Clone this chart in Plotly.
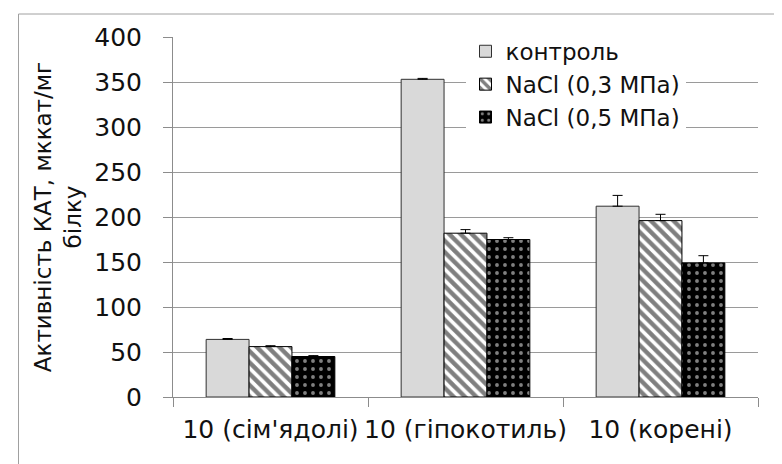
import plotly.graph_objects as go

categories = ["10 (сім'ядолі)", "10 (гіпокотиль)", "10 (корені)"]
series_names = ["контроль", "NaCl (0,3 МПа)", "NaCl (0,5 МПа)"]
control = [64, 353, 212]
control_err = [1, 1, 12]
nacl03 = [56, 182, 196]
nacl03_err = [1, 4, 7]
nacl05 = [45, 175, 149]
nacl05_err = [1, 2, 8]
y_ticks = [0, 50, 100, 150, 200, 250, 300, 350, 400]

FONT = "DejaVu Sans"
TXT = "#111111"

fig = go.Figure()
fig.add_trace(go.Bar(
    name=series_names[0], x=categories, y=control,
    marker=dict(color="#d9d9d9", line=dict(color="#303030", width=1)),
    error_y=dict(type="data", symmetric=False, array=control_err,
                 arrayminus=[0] * 3, color="black", thickness=1, width=5),
))
fig.add_trace(go.Bar(
    name=series_names[1], x=categories, y=nacl03,
    marker=dict(color="white", line=dict(color="black", width=1),
                pattern=dict(shape="\\", fgcolor="black", bgcolor="white",
                             size=8, solidity=0.55)),
    error_y=dict(type="data", symmetric=False, array=nacl03_err,
                 arrayminus=[0] * 3, color="black", thickness=1, width=5),
))
fig.add_trace(go.Bar(
    name=series_names[2], x=categories, y=nacl05,
    marker=dict(color="black", line=dict(color="black", width=1),
                pattern=dict(shape=".", fgcolor="white", bgcolor="black",
                             size=8, solidity=0.18)),
    error_y=dict(type="data", symmetric=False, array=nacl05_err,
                 arrayminus=[0] * 3, color="black", thickness=1, width=5),
))

fig.update_layout(
    width=782, height=464,
    margin=dict(l=165, r=32, t=29, b=75),
    paper_bgcolor="white", plot_bgcolor="white",
    barmode="group", bargap=0.34, bargroupgap=0,
    font=dict(family=FONT, size=24, color=TXT),
    showlegend=True,
    legend=dict(x=0.5, y=1.02, xanchor="left", yanchor="top",
                bgcolor="white", borderwidth=0,
                font=dict(family=FONT, size=23, color=TXT),
                itemwidth=30, tracegroupgap=0),
    shapes=[dict(type="rect", xref="paper", yref="paper",
                 x0=(10.5 - 165) / 585, x1=(777 - 165) / 585,
                 y0=-(470 - 389) / 360, y1=(389 - 6) / 360,
                 line=dict(color="#a0a0a0", width=1), layer="above")],
)
fig.update_xaxes(
    type="category", showline=True, linecolor="#8c8c8c", linewidth=1,
    ticks="outside", tickson="boundaries", ticklen=9, tickcolor="#8c8c8c",
    showgrid=False, tickfont=dict(size=25), ticklabelstandoff=10,
    tickangle=0, automargin=False,
)
fig.update_yaxes(
    range=[0, 400], tickvals=y_ticks, showline=True, linecolor="#8c8c8c",
    linewidth=1, ticks="outside", ticklen=9, tickcolor="#8c8c8c",
    showgrid=True, gridcolor="#9a9a9a", gridwidth=1, zeroline=False,
    tickfont=dict(size=25), ticklabelstandoff=16, automargin=False,
    title=dict(text="Активність КАТ, мккат/мг<br>білку",
               font=dict(size=23), standoff=6),
)

fig.write_html("out.html")
